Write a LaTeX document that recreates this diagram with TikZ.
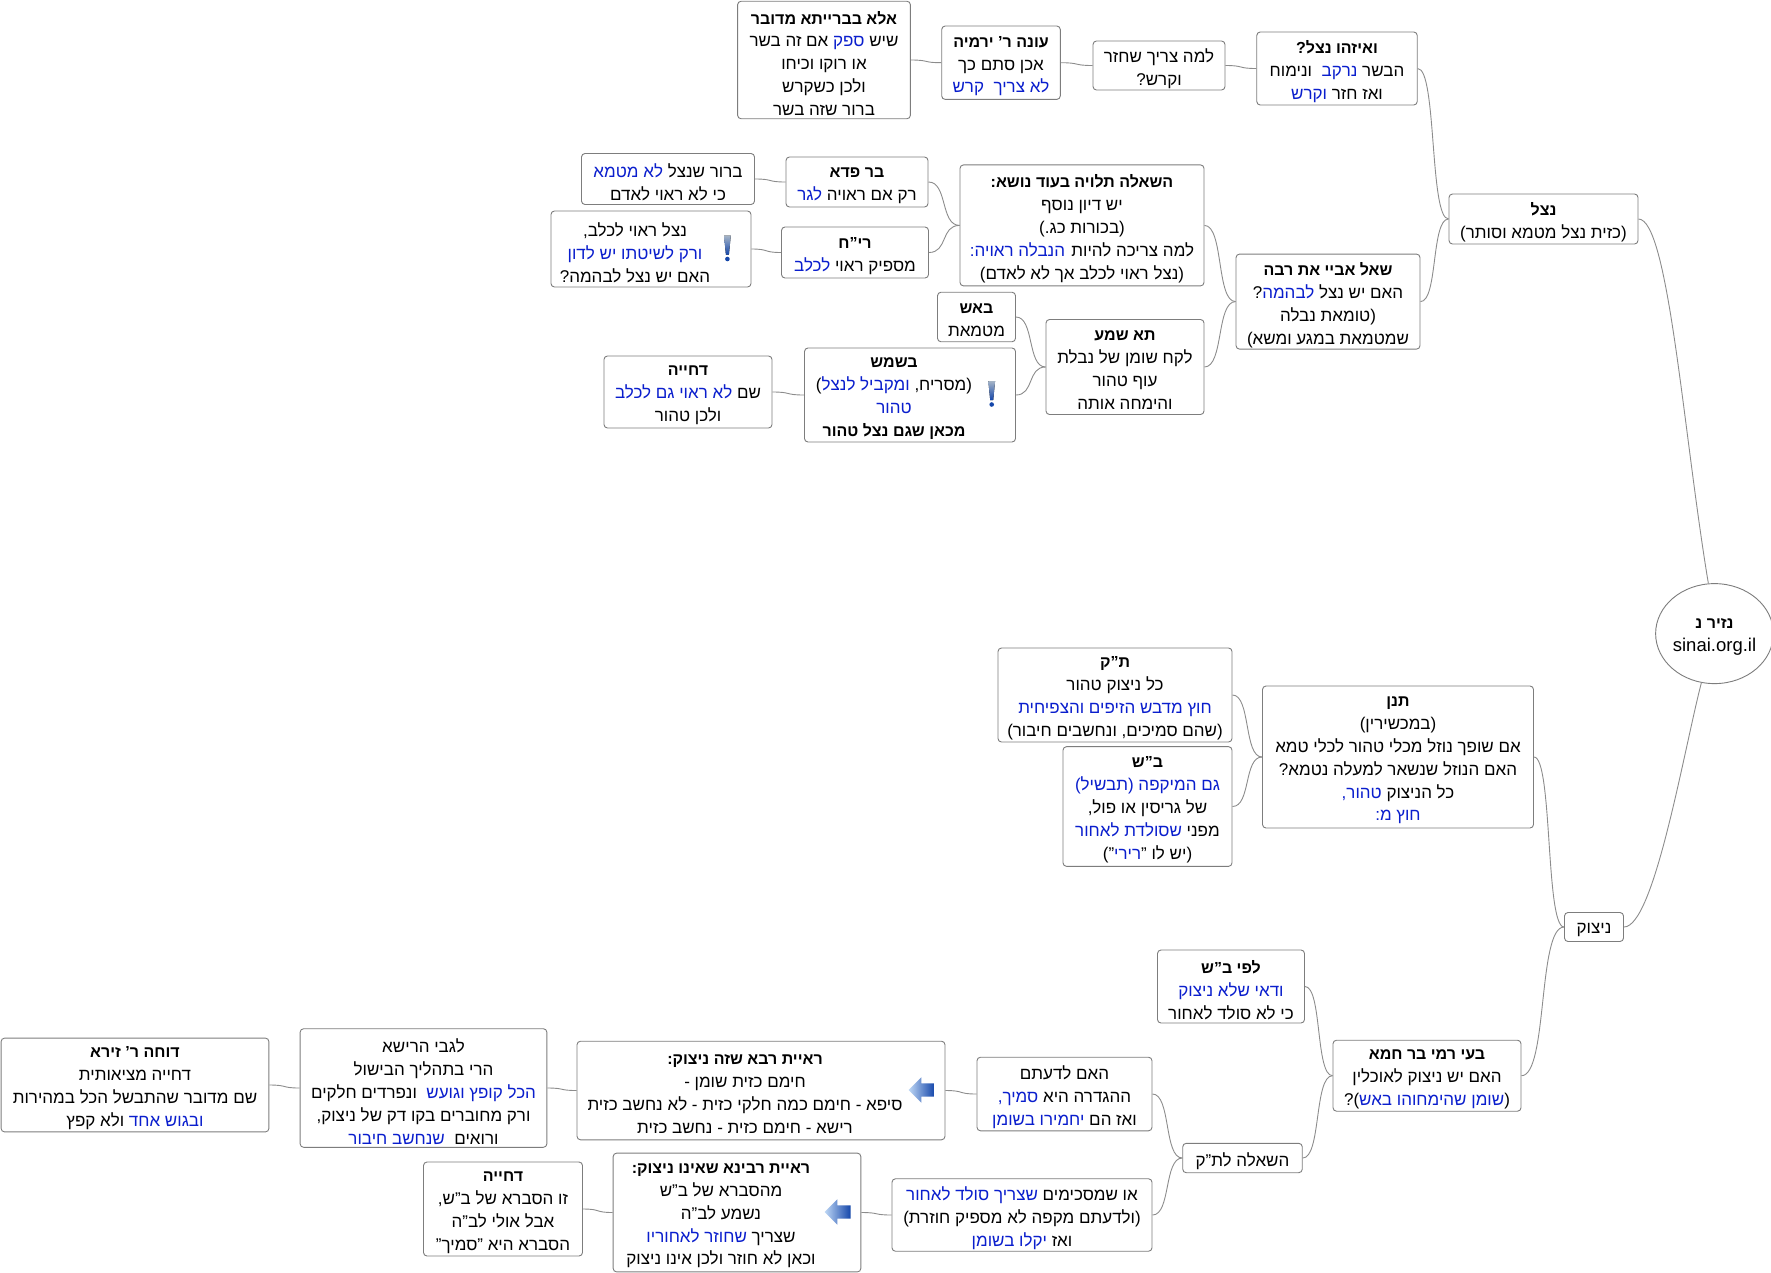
\documentclass[tikz,border=0pt]{standalone}
\usepackage{fontspec}
\usepackage{xcolor}
\usetikzlibrary{calc,shapes.geometric,shapes.arrows}
\setmainfont[Script=Hebrew]{Liberation Sans}
\TeXXeTstate=1
\definecolor{boxgray}{RGB}{125,125,125}
\definecolor{linkgray}{RGB}{140,140,140}
\definecolor{hlblue}{RGB}{10,30,205}
\definecolor{icondark}{RGB}{20,70,170}
\definecolor{iconlight}{RGB}{190,215,245}
% a run of right-to-left text; a line with colour lists its runs from left to right
\newcommand{\rr}[1]{\beginR #1\endR}
\newcommand{\hl}[1]{\textcolor{hlblue}{\rr{#1}}}
\newcommand{\hd}[1]{{\fontsize{16}{22.9}\selectfont\bfseries\rr{#1}}}
\newcommand{\lin}[1]{\raisebox{-3.4pt}[\height][\depth]{#1}}
\newcommand{\linp}[1]{\lin{#1\kern32pt}}
\newcommand{\rl}[1]{\lin{\rr{#1}}}
\newcommand{\rlp}[1]{\linp{\rr{#1}}}

\begin{document}
\begin{tikzpicture}[x=1pt,y=1pt,
        box/.style={rectangle,rounded corners=3.5pt,draw=boxgray,line width=0.9pt,fill=white,
          inner sep=0pt,align=center,font=\fontsize{17}{22.9}\selectfont},
        wh/.style 2 args={minimum width=#1pt,minimum height=#2pt},
        link/.style={draw=linkgray,line width=0.9pt},
        arrowicon/.style={single arrow,shape border rotate=180,minimum height=26pt,minimum width=25pt,
          inner xsep=0pt,inner ysep=6.5pt,single arrow head extend=6pt,left color=iconlight,right color=icondark}]
        \useasboundingbox (0,0) rectangle (1771,-1272);
        % root
        \node[box,ellipse,wh={113}{100}] (root) at (1714.5,-633.6) {\lin{\hd{נזיר נ}}\\\lin{\fontsize{18.5}{22.9}\selectfont sinai.org.il}};
        % upper branch
        \node[box,wh={189}{50}] (nezel) at (1543.5,-219) {\lin{\hd{נצל}}\\\rl{(כזית נצל מטמא וסותר)}};
        \node[box,wh={160.5}{73}] (eizehu) at (1337,-68.5) {\lin{\hd{ואיזהו נצל?}}\\\lin{\rr{ונימוח}~~\hl{נרקב} \rr{הבשר}}\\\lin{\hl{וקרש} \rr{ואז חזר}}};
        \node[box,wh={132}{49}] (lama) at (1159,-65.5) {\rl{למה צריך שחזר}\\\rl{וקרש?}};
        \node[box,wh={118.6}{73.4}] (one) at (1001,-62.7) {\lin{\hd{עונה ר' ירמיה}}\\\rl{אכן סתם כך}\\\lin{\hl{לא צריך~ קרש}}};
        \node[box,wh={172.8}{117.5}] (ela) at (824,-60) {\lin{\hd{אלא בברייתא מדובר}}\\\lin{\rr{אם זה בשר} \hl{ספק} \rr{שיש}}\\\rl{או רוקו וכיחו}\\\rl{ולכן כשקרש}\\\rl{ברור שזה בשר}};
        \node[box,wh={184}{95}] (shaal) at (1328,-301.6) {\lin{\hd{שאל אביי את רבה}}\\\lin{\rr{?}\hl{לבהמה} \rr{האם יש נצל}}\\\rl{(טומאת נבלה}\\\rl{שמטמאת במגע ומשא)}};
        \node[box,wh={244}{121}] (hashela) at (1082,-225.4) {\lin{\hd{השאלה תלויה בעוד נושא:}}\\\rl{יש דיון נוסף}\\\rl{(בכורות כג.)}\\\lin{\hl{הנבלה ראויה:} \rr{למה צריכה להיות}}\\\rl{(נצל ראוי לכלב אך לא לאדם)}};
        \node[box,wh={142}{50}] (barpada) at (857,-182) {\lin{\hd{בר פדא}}\\\lin{\hl{לגר} \rr{רק אם ראויה}}};
        \node[box,wh={147}{51}] (rih) at (855,-252.5) {\lin{\hd{רי"ח}}\\\lin{\hl{לכלב} \rr{מספיק ראוי}}};
        \node[box,wh={173}{51}] (barur) at (668,-179) {\lin{\hl{לא מטמא} \rr{ברור שנצל}}\\\rl{כי לא ראוי לאדם}};
        \node[box,wh={200}{76}] (nezelraui) at (651,-249) {\rlp{נצל ראוי לכלב,}\\\linp{\hl{ורק לשיטתו יש לדון}}\\\rlp{האם יש נצל לבהמה?}};
        \node[box,wh={158}{95}] (tashma) at (1125,-367) {\lin{\hd{תא שמע}}\\\rl{לקח שומן של נבלת}\\\rl{עוף טהור}\\\rl{והימחה אותה}};
        \node[box,wh={78}{49.5}] (baesh) at (976.5,-317) {\lin{\hd{באש}}\\\rl{מטמאת}};
        \node[box,wh={211}{94}] (bashemesh) at (910,-395) {\linp{\hd{בשמש}}\\\linp{\rr{)}\hl{ומקביל לנצל} \rr{(מסריח,}}\\\linp{\hl{טהור}}\\\linp{\hd{מכאן שגם נצל טהור}}};
        \node[box,wh={168}{72}] (dchiyaa) at (688,-392) {\lin{\hd{דחייה}}\\\lin{\hl{לא ראוי גם לכלב} \rr{שם}}\\\rl{ולכן טהור}};
        % lower branch
        \node[box,wh={59}{29}] (nitzuk) at (1594,-927) {\rl{ניצוק}};
        \node[box,wh={271}{142}] (tanan) at (1398,-757) {\lin{\hd{תנן}}\\\rl{(במכשירין)}\\\rl{אם שופך נוזל מכלי טהור לכלי טמא}\\\rl{האם הנוזל שנשאר למעלה נטמא?}\\\lin{\hl{טהור,} \rr{כל הניצוק}}\\\lin{\hl{חוץ מ:}}};
        \node[box,wh={234}{94}] (tk) at (1115,-695) {\lin{\hd{ת"ק}}\\\rl{כל ניצוק טהור}\\\lin{\hl{חוץ מדבש הזיפים והצפיחית}}\\\rl{(שהם סמיכים, ונחשבים חיבור)}};
        \node[box,wh={169}{119.7}] (bs) at (1147.5,-806.5) {\lin{\hd{ב"ש}}\\\lin{\hl{גם המיקפה (תבשיל)}}\\\rl{של גריסין או פול,}\\\lin{\hl{שסולדת לאחור} \rr{מפני}}\\\lin{\rr{")}\hl{רירי}\rr{(יש לו "}}};
        \node[box,wh={188}{71}] (bei) at (1427,-1075.7) {\lin{\hd{בעי רמי בר חמא}}\\\rl{האם יש ניצוק לאוכלין}\\\lin{\rr{)?}\hl{שומן שהימחוהו באש}\rr{(}}};
        \node[box,wh={147}{73}] (lefi) at (1231,-986.5) {\lin{\hd{לפי ב"ש}}\\\lin{\hl{ודאי שלא ניצוק}}\\\rl{כי לא סולד לאחור}};
        \node[box,wh={119.5}{29.4}] (hashelaltk) at (1242.5,-1158) {\rl{השאלה לת"ק}};
        \node[box,wh={175}{73.6}] (haam) at (1064.5,-1094) {\rl{האם לדעתם}\\\lin{\hl{סמיך,} \rr{ההגדרה היא}}\\\lin{\hl{יחמירו בשומן} \rr{ואז הם}}};
        \node[box,wh={260}{72.5}] (oshe) at (1022,-1215) {\lin{\hl{שצריך סולד לאחור} \rr{או שמסכימים}}\\\rl{(ולדעתם מקפה לא מספיק חוזרת)}\\\lin{\hl{יקלו בשומן} \rr{ואז}}};
        \node[box,wh={368}{98.6}] (rayaraba) at (761,-1090.5) {\linp{\hd{ראיית רבא שזה ניצוק:}}\\\rlp{חימם כזית שומן -}\\\rlp{סיפא - חימם כמה חלקי כזית - לא נחשב כזית}\\\rlp{רישא - חימם כזית - נחשב כזית}};
        \node[box,wh={247.7}{118.8}] (rayaravina) at (737,-1212.5) {\linp{\hd{ראיית רבינא שאינו ניצוק:}}\\\rlp{מהסברא של ב"ש}\\\rlp{נשמע לב"ה}\\\linp{\hl{שחוזר לאחוריו} \rr{שצריך}}\\\rlp{וכאן לא חוזר ולכן אינו ניצוק}};
        \node[box,wh={246.7}{118.6}] (lgabei) at (423.5,-1088) {\rl{לגבי הרישא}\\\rl{הרי בתהליך הבישול}\\\lin{\rr{ונפרדים חלקים}~~\hl{הכל קופץ וגועש}}\\\rl{ורק מחוברים בקו דק של ניצוק,}\\\lin{\hl{שנחשב חיבור}~~\rr{ורואים}}};
        \node[box,wh={267.8}{93.8}] (docheh) at (135,-1085) {\lin{\hd{דוחה ר' זירא}}\\\rl{דחייה מציאותית}\\\rl{שם מדובר שהתבשל הכל במהירות}\\\lin{\rr{ולא קפץ} \hl{ובגוש אחד}}};
        \node[box,wh={159}{94}] (dchiyab) at (503,-1209) {\lin{\hd{דחייה}}\\\rl{זו הסברא של ב"ש,}\\\rl{אבל אולי לב"ה}\\\rl{הסברא היא "סמיך"}};
        % icons
        \node[arrowicon] (arrowa) at (925,-1090) {};
        \node[arrowicon] (arrowb) at (841,-1212) {};
        \foreach \x/\y in {727.4/-248.5,991.7/-394} {
          \fill[top color=iconlight!60!gray,bottom color=icondark] (\x-3.4,\y+13) -- (\x+3.4,\y+13) -- (\x+1.5,\y-6) -- (\x-1.5,\y-6) -- cycle;
          \fill[icondark] (\x,\y-10.5) circle (2.3);
        }
        % connectors, child first
        \foreach \a/\b in {ela/one,one/lama,lama/eizehu,eizehu/nezel,shaal/nezel,
            barur/barpada,barpada/hashela,nezelraui/rih,rih/hashela,hashela/shaal,
            baesh/tashma,dchiyaa/bashemesh,bashemesh/tashma,tashma/shaal,
            tk/tanan,bs/tanan,tanan/nitzuk,lefi/bei,hashelaltk/bei,bei/nitzuk,
            haam/hashelaltk,oshe/hashelaltk,rayaraba/haam,lgabei/rayaraba,docheh/lgabei,
            rayaravina/oshe,dchiyab/rayaravina} {
          \draw[link] let \p1=(\a.east),\p2=(\b.west),\n1={(\x2-\x1)*0.62} in
            (\p1) .. controls ($(\p1)+(\n1,0)$) and ($(\p2)-(\n1,0)$) .. (\p2);
        }
        \draw[link] (nezel.east) .. controls +(30,0) and +(-25,150) .. (root.97);
        \draw[link] (nitzuk.east) .. controls +(30,0) and +(-18,-70) .. (root.-105);
      \end{tikzpicture}
\end{document}
